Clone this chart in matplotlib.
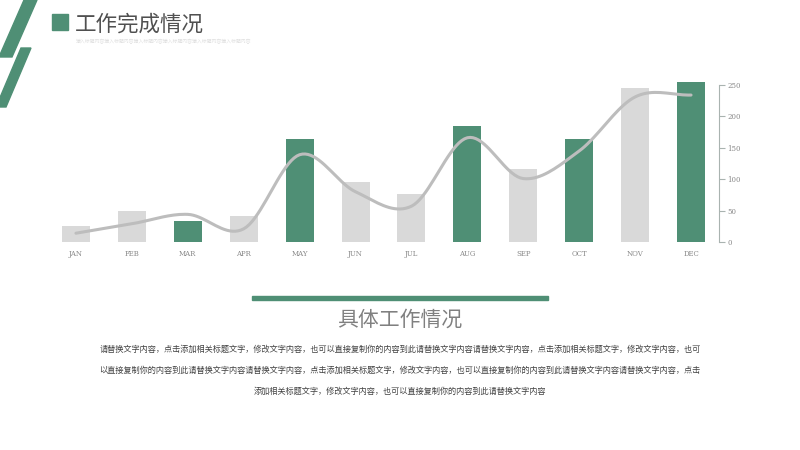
import numpy as np
import matplotlib.pyplot as plt
from matplotlib.patches import Polygon, Rectangle

plt.rcParams['font.family'] = ['Noto Sans CJK SC', 'DejaVu Sans']

months = ['JAN', 'FEB', 'MAR', 'APR', 'MAY', 'JUN', 'JUL', 'AUG', 'SEP', 'OCT', 'NOV', 'DEC']
bar_values = [25, 50, 34, 42, 164, 96, 77, 185, 117, 164, 245, 254]
line_values = [14, 29, 44, 21, 139, 80, 57, 166, 101, 145, 231, 234]
highlight = [False, False, True, False, True, False, False, True, False, True, False, True]
yticks = [0, 50, 100, 150, 200, 250]

title = '工作完成情况'
subtitle = '输入标题内容输入标题内容输入标题内容输入标题内容输入标题内容输入标题内容'
heading = '具体工作情况'
body_lines = [
    '请替换文字内容，点击添加相关标题文字，修改文字内容，也可以直接复制你的内容到此请替换文字内容请替换文字内容，点击添加相关标题文字，修改文字内容，也可',
    '以直接复制你的内容到此请替换文字内容请替换文字内容，点击添加相关标题文字，修改文字内容，也可以直接复制你的内容到此请替换文字内容请替换文字内容，点击',
    '添加相关标题文字，修改文字内容，也可以直接复制你的内容到此请替换文字内容',
]

GREEN = '#4f8f75'
GREY = '#d9d9d9'


def smooth(xs, ys, n=20):
    # catmull-rom curve through the points, only for drawing
    xs = np.asarray(xs, float)
    ys = np.asarray(ys, float)
    px = np.concatenate([[2 * xs[0] - xs[1]], xs, [2 * xs[-1] - xs[-2]]])
    py = np.concatenate([[2 * ys[0] - ys[1]], ys, [2 * ys[-1] - ys[-2]]])
    ox, oy = [], []
    t = np.linspace(0, 1, n, endpoint=False)
    for i in range(1, len(px) - 2):
        for p, out in ((px, ox), (py, oy)):
            p0, p1, p2, p3 = p[i - 1], p[i], p[i + 1], p[i + 2]
            out.extend(0.5 * (2 * p1 + (-p0 + p2) * t + (2 * p0 - 5 * p1 + 4 * p2 - p3) * t ** 2
                              + (-p0 + 3 * p1 - 3 * p2 + p3) * t ** 3))
    ox.append(xs[-1])
    oy.append(ys[-1])
    return np.array(ox), np.array(oy)


fig = plt.figure(figsize=(8, 4.5), dpi=100)

# decoration, figure pixel coords (y from top)
def px_poly(pts, **kw):
    p = Polygon([(x / 800, 1 - y / 450) for x, y in pts], closed=True,
                transform=fig.transFigure, **kw)
    fig.patches.append(p)

px_poly([(24, 0), (37, 0), (12, 57), (-1, 57)], color=GREEN)
px_poly([(21, 48), (31, 48), (6, 107), (-4, 107)], color=GREEN)
fig.patches.append(Rectangle((52 / 800, 1 - 30 / 450), 16 / 800, 16 / 450,
                             transform=fig.transFigure, color=GREEN))
fig.text(75 / 800, 1 - 25 / 450, title, fontsize=15.5, color='#505050', va='center', ha='left',
         fontweight='light')
fig.text(76 / 800, 1 - 42 / 450, subtitle, fontsize=3.5, color='#e0e0e0', va='center', ha='left')

ax = fig.add_axes([48 / 800, 1 - 242 / 450, 671 / 800, 157 / 450])
x = np.arange(len(months))
colors = [GREEN if h else GREY for h in highlight]
ax.bar(x, bar_values, width=0.5, color=colors, zorder=2, clip_on=False)
sx, sy = smooth(x, line_values)
ax.plot(sx, sy, color='#bdbdbd', lw=2.2, zorder=3, solid_capstyle='round')

ax.set_xlim(-0.5, len(months) - 0.5)
ax.set_ylim(0, 250)
ax.set_xticks(x)
ax.set_xticklabels(months, fontsize=5, color='#888888', family='DejaVu Serif')
ax.tick_params(axis='x', length=0, pad=6)
ax.yaxis.tick_right()
ax.set_yticks(yticks)
ax.set_yticklabels([str(v) for v in yticks], fontsize=5, color='#888888', family='DejaVu Serif')
ax.tick_params(axis='y', direction='out', length=4, width=0.8, color='#a9b3b0', pad=2)
for s in ['top', 'left', 'bottom']:
    ax.spines[s].set_visible(False)
ax.spines['right'].set_color('#a9b3b0')
ax.spines['right'].set_linewidth(0.8)

fig.patches.append(Rectangle((252 / 800, 1 - 300 / 450), 296 / 800, 4 / 450,
                             transform=fig.transFigure, color=GREEN))
fig.text(0.5, 1 - 320 / 450, heading, fontsize=15, color='#808080', ha='center', va='center',
         fontweight='light')
for i, line in enumerate(body_lines):
    fig.text(0.5, 1 - (349 + 21 * i) / 450, line, fontsize=5.9, color='#404040',
             ha='center', va='center')

fig.savefig('out.png', dpi=100)
